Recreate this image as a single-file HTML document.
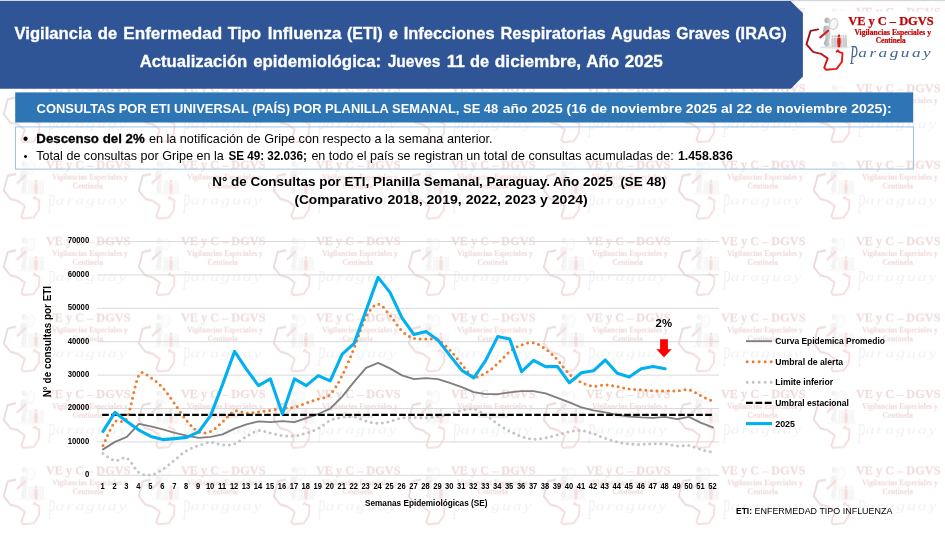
<!DOCTYPE html>
<html lang="es"><head><meta charset="utf-8"><title>Vigilancia ETI / IRAG</title>
<style>
html,body{margin:0;padding:0;background:#fff;}
svg{display:block;font-family:'Liberation Sans', sans-serif;}
.serif{font-family:'Liberation Serif', serif;}
.script{font-family:'Liberation Serif',serif;font-style:italic;}
</style></head><body>
<svg width="945" height="535" viewBox="0 0 945 535">
<defs>
<g id="logoG">
<linearGradient id="mapg" x1="0" y1="0" x2="1" y2="0.6"><stop offset="0" stop-color="#8e1216"/><stop offset="1" stop-color="#e41a1a"/></linearGradient>
<linearGradient id="figg" x1="0" y1="0" x2="1" y2="0"><stop offset="0" stop-color="#a9a9a9"/><stop offset="1" stop-color="#d6d6d6"/></linearGradient>
<path d="M14.1,16.4 L6.5,17.9 L2.5,31.3 L9.1,38.9 L16.9,40.8 L23.7,45.4 L20.2,54.6 L22.2,56.8 L32.6,55.9 L37.9,48.7 L38.5,40.2 L35.3,39.1 L33.9,37.3 L32.6,38.6" fill="none" stroke="url(#mapg)" stroke-width="1.9" stroke-linejoin="round" stroke-linecap="round"/>
<ellipse cx="30.5" cy="34.2" rx="15" ry="1.5" fill="#e2e2e2"/>
<g fill="#cbcbcb">
<rect x="27.4" y="24.6" width="2.2" height="9.4" rx="1"/><rect x="29.9" y="24.2" width="2.2" height="9.8" rx="1"/><rect x="32.2" y="24.8" width="1.8" height="9.2" rx=".9"/>
<rect x="36.6" y="24.8" width="1.8" height="9.2" rx=".9"/><rect x="38.6" y="24.2" width="2.2" height="9.8" rx="1"/><rect x="41" y="24.6" width="2" height="9.4" rx="1"/>
<circle cx="28.5" cy="23.4" r="1.1"/><circle cx="31" cy="23" r="1.1"/><circle cx="33.1" cy="23.6" r="1"/><circle cx="37.5" cy="23.6" r="1"/><circle cx="39.7" cy="23" r="1.1"/><circle cx="42" cy="23.4" r="1.1"/>
</g>
<g fill="#dc1a1a"><circle cx="35" cy="22.8" r="1.3"/><path d="M33.6,24.6 H36.4 L36.8,29 L36.2,34.2 H33.8 L33.2,29 Z"/></g>
<g fill="url(#figg)">
<circle cx="23.4" cy="7.4" r="2.9"/>
<path d="M19.8,13.6 Q22.8,11.6 25.8,13 L26.6,21.5 L25,29 L26.4,32.2 L21.5,33.8 L19.8,30.6 L21.8,23.7 L19,18.5 Z"/>
</g>
<path d="M24.1,17.7 L16.2,24.4" stroke="#d42020" stroke-width="2.1" stroke-linecap="round"/>
<ellipse cx="29.7" cy="11" rx="4" ry="5.5" transform="rotate(18 29.7 11)" fill="#f6f6fa" stroke="#cfcfcf" stroke-width="1.2"/>
</g>
<g id="logoT">
<text class="serif" x="44.2" y="11.9" font-size="12.4" font-weight="bold" fill="#c00000" stroke="#c00000" stroke-width=".25" textLength="85.4" lengthAdjust="spacingAndGlyphs">VE y C – DGVS</text>
<text class="serif" x="50.4" y="21.6" font-size="7.6" font-weight="bold" fill="#c00000" stroke="#c00000" stroke-width=".2" textLength="76.6" lengthAdjust="spacingAndGlyphs">Vigilancias Especiales y</text>
<text class="serif" x="71.7" y="29.6" font-size="7.6" font-weight="bold" fill="#c00000" stroke="#c00000" stroke-width=".2" textLength="29.9" lengthAdjust="spacingAndGlyphs">Centinela</text>
<text class="script" transform="translate(46,51.2) scale(0.85,1.85)" font-size="15" fill="currentColor">P</text>
<text class="script" transform="translate(54.3,43.6) scale(1.5,1)" font-size="11.5" fill="currentColor" textLength="48.3" lengthAdjust="spacing">araguay</text>
</g>
<g id="tileT">
<text class="serif" x="45.9" y="16.3" font-size="12.6" font-weight="bold" fill="#c00000" stroke="#c00000" stroke-width=".25" textLength="84.6" lengthAdjust="spacingAndGlyphs">VE y C – DGVS</text>
<text class="serif" x="52" y="27" font-size="7.8" font-weight="bold" fill="#c00000" stroke="#c00000" stroke-width=".2" textLength="75.8" lengthAdjust="spacingAndGlyphs">Vigilancias Especiales y</text>
<text class="serif" x="72.6" y="35.8" font-size="7.8" font-weight="bold" fill="#c00000" stroke="#c00000" stroke-width=".2" textLength="30.4" lengthAdjust="spacingAndGlyphs">Centinela</text>
<text class="script" transform="translate(47.6,60.2) scale(0.85,2)" font-size="15" fill="#9fb0c6">P</text>
<text class="script" transform="translate(55.6,52) scale(1.5,1)" font-size="12" fill="#9fb0c6" textLength="47.3" lengthAdjust="spacing">araguay</text>
</g>
<pattern id="wm" width="135.000" height="76.429" patternUnits="userSpaceOnUse"><use href="#logoG" transform="translate(1.3,3.1) scale(0.992,1.104)"/><use href="#tileT"/></pattern>
<filter id="ws" x="0" y="0" width="100%" height="100%"><feColorMatrix type="saturate" values="0.7"/><feGaussianBlur stdDeviation="0.35"/></filter>
</defs>
<rect width="945" height="535" fill="#fff"/>
<rect width="945" height="535" fill="url(#wm)" opacity="0.17" filter="url(#ws)"/>
<rect width="945" height="1.2" fill="#d6d6d6"/>
<path d="M0,1 H790.6 L802.9,13.3 V76.5 L790.9,88.7 H0 Z" fill="#2f5597"/>
<text y="39.0" font-size="16.8" font-weight="bold" fill="#fff" stroke="#fff" stroke-width=".3"><tspan x="14.6" textLength="77.2" lengthAdjust="spacingAndGlyphs">Vigilancia</tspan> <tspan x="97.8" textLength="19.3" lengthAdjust="spacingAndGlyphs">de</tspan> <tspan x="123.3" textLength="98.8" lengthAdjust="spacingAndGlyphs">Enfermedad</tspan> <tspan x="227.7" textLength="33.4" lengthAdjust="spacingAndGlyphs">Tipo</tspan> <tspan x="267.7" textLength="73.7" lengthAdjust="spacingAndGlyphs">Influenza</tspan> <tspan x="347" textLength="35.5" lengthAdjust="spacingAndGlyphs">(ETI)</tspan> <tspan x="388.9" textLength="8.9" lengthAdjust="spacingAndGlyphs">e</tspan> <tspan x="403.7" textLength="90.9" lengthAdjust="spacingAndGlyphs">Infecciones</tspan> <tspan x="500.4" textLength="105.4" lengthAdjust="spacingAndGlyphs">Respiratorias</tspan> <tspan x="611" textLength="59.5" lengthAdjust="spacingAndGlyphs">Agudas</tspan> <tspan x="676.3" textLength="53.4" lengthAdjust="spacingAndGlyphs">Graves</tspan> <tspan x="735.2" textLength="51.6" lengthAdjust="spacingAndGlyphs">(IRAG)</tspan></text>
<text y="66.8" font-size="16.8" font-weight="bold" fill="#fff" stroke="#fff" stroke-width=".3"><tspan x="139.7" textLength="107.6" lengthAdjust="spacingAndGlyphs">Actualización</tspan> <tspan x="253.2" textLength="127.9" lengthAdjust="spacingAndGlyphs">epidemiológica:</tspan> <tspan x="387.7" textLength="52.6" lengthAdjust="spacingAndGlyphs">Jueves</tspan> <tspan x="446.7" textLength="18.3" lengthAdjust="spacingAndGlyphs">11</tspan> <tspan x="470" textLength="19.0" lengthAdjust="spacingAndGlyphs">de</tspan> <tspan x="494.8" textLength="86.3" lengthAdjust="spacingAndGlyphs">diciembre,</tspan> <tspan x="586.2" textLength="33.0" lengthAdjust="spacingAndGlyphs">Año</tspan> <tspan x="624.7" textLength="38.1" lengthAdjust="spacingAndGlyphs">2025</tspan></text>
<rect x="803.5" y="11.5" width="141.5" height="65" fill="#fff"/>
<g transform="translate(804,13)" style="color:#3f6590"><use href="#logoG"/><use href="#logoT"/></g>
<rect x="15.2" y="92.4" width="898" height="30.1" fill="#2e75b6"/>
<text x="36.6" y="112.5" font-size="13" font-weight="bold" fill="#fff" textLength="212.0" lengthAdjust="spacingAndGlyphs">CONSULTAS POR ETI UNIVERSAL</text>
<text x="252.2" y="112.5" font-size="13" font-weight="bold" fill="#fff" textLength="246.0" lengthAdjust="spacingAndGlyphs">(PAÍS) POR PLANILLA SEMANAL, SE 48</text>
<text x="502.7" y="112.5" font-size="13.3" font-weight="bold" fill="#fff" textLength="389.0" lengthAdjust="spacingAndGlyphs">año 2025 (16 de noviembre 2025 al 22 de noviembre 2025):</text>
<rect x="15.5" y="126.9" width="898" height="42.2" fill="none" stroke="#9dc3e6" stroke-width="1"/>
<text x="22.7" y="144.3" font-size="16" font-weight="normal" fill="#000">•</text>
<text x="36.3" y="143.2" font-size="13.2" font-weight="bold" fill="#000" textLength="108.4" lengthAdjust="spacingAndGlyphs" stroke="#000" stroke-width=".3">Descenso del 2%</text>
<text x="148.9" y="143.2" font-size="13.2" font-weight="normal" fill="#000" textLength="343.7" lengthAdjust="spacingAndGlyphs">en la notificación de Gripe con respecto a la semana anterior.</text>
<text x="23.5" y="160.4" font-size="11.5" font-weight="normal" fill="#000">•</text>
<text x="36.3" y="160.3" font-size="12.4" font-weight="normal" fill="#000" textLength="187.5" lengthAdjust="spacingAndGlyphs">Total de consultas por Gripe en la</text>
<text x="228.4" y="160.3" font-size="12.4" font-weight="bold" fill="#000" textLength="78.5" lengthAdjust="spacingAndGlyphs">SE 49: 32.036;</text>
<text x="311.4" y="160.3" font-size="12.4" font-weight="normal" fill="#000" textLength="362.3" lengthAdjust="spacingAndGlyphs">en todo el país se registran un total de consultas acumuladas de:</text>
<text x="678" y="160.3" font-size="12.4" font-weight="bold" fill="#000" textLength="54.8" lengthAdjust="spacingAndGlyphs">1.458.836</text>
<text x="212.2" y="185.8" font-size="13.2" font-weight="bold" fill="#000" textLength="453.8" lengthAdjust="spacingAndGlyphs" xml:space="preserve">N° de Consultas por ETI, Planilla Semanal, Paraguay. Año 2025  (SE 48)</text>
<text y="204.4" font-size="13.2" font-weight="bold" fill="#000"><tspan x="294.4" textLength="88.4" lengthAdjust="spacingAndGlyphs">(Comparativo</tspan> <tspan x="387.4" textLength="200.4" lengthAdjust="spacingAndGlyphs">2018, 2019, 2022, 2023 y 2024)</tspan></text>
<line x1="97.3" x2="719" y1="475.3" y2="475.3" stroke="#d9d9d9" stroke-width="1"/>
<text x="89.2" y="477.2" font-size="8.4" font-weight="bold" fill="#000" text-anchor="end" textLength="4.3" lengthAdjust="spacingAndGlyphs">0</text>
<line x1="97.3" x2="719" y1="441.9" y2="441.9" stroke="#d9d9d9" stroke-width="1"/>
<text x="89.2" y="443.8" font-size="8.4" font-weight="bold" fill="#000" text-anchor="end" textLength="21.5" lengthAdjust="spacingAndGlyphs">10000</text>
<line x1="97.3" x2="719" y1="408.5" y2="408.5" stroke="#d9d9d9" stroke-width="1"/>
<text x="89.2" y="410.4" font-size="8.4" font-weight="bold" fill="#000" text-anchor="end" textLength="21.5" lengthAdjust="spacingAndGlyphs">20000</text>
<line x1="97.3" x2="719" y1="375.1" y2="375.1" stroke="#d9d9d9" stroke-width="1"/>
<text x="89.2" y="377.0" font-size="8.4" font-weight="bold" fill="#000" text-anchor="end" textLength="21.5" lengthAdjust="spacingAndGlyphs">30000</text>
<line x1="97.3" x2="719" y1="341.7" y2="341.7" stroke="#d9d9d9" stroke-width="1"/>
<text x="89.2" y="343.6" font-size="8.4" font-weight="bold" fill="#000" text-anchor="end" textLength="21.5" lengthAdjust="spacingAndGlyphs">40000</text>
<line x1="97.3" x2="719" y1="308.3" y2="308.3" stroke="#d9d9d9" stroke-width="1"/>
<text x="89.2" y="310.2" font-size="8.4" font-weight="bold" fill="#000" text-anchor="end" textLength="21.5" lengthAdjust="spacingAndGlyphs">50000</text>
<line x1="97.3" x2="719" y1="274.9" y2="274.9" stroke="#d9d9d9" stroke-width="1"/>
<text x="89.2" y="276.8" font-size="8.4" font-weight="bold" fill="#000" text-anchor="end" textLength="21.5" lengthAdjust="spacingAndGlyphs">60000</text>
<line x1="97.3" x2="719" y1="241.5" y2="241.5" stroke="#d9d9d9" stroke-width="1"/>
<text x="89.2" y="243.4" font-size="8.4" font-weight="bold" fill="#000" text-anchor="end" textLength="21.5" lengthAdjust="spacingAndGlyphs">70000</text>
<text transform="translate(50.7,397.3) rotate(-90)" font-size="10" font-weight="bold" textLength="111.4" lengthAdjust="spacingAndGlyphs">N° de consultas por ETI</text>
<text x="102.5" y="489.1" font-size="8.4" font-weight="bold" fill="#000" text-anchor="middle" textLength="4.2" lengthAdjust="spacingAndGlyphs">1</text>
<text x="114.5" y="489.1" font-size="8.4" font-weight="bold" fill="#000" text-anchor="middle" textLength="4.2" lengthAdjust="spacingAndGlyphs">2</text>
<text x="126.4" y="489.1" font-size="8.4" font-weight="bold" fill="#000" text-anchor="middle" textLength="4.2" lengthAdjust="spacingAndGlyphs">3</text>
<text x="138.4" y="489.1" font-size="8.4" font-weight="bold" fill="#000" text-anchor="middle" textLength="4.2" lengthAdjust="spacingAndGlyphs">4</text>
<text x="150.3" y="489.1" font-size="8.4" font-weight="bold" fill="#000" text-anchor="middle" textLength="4.2" lengthAdjust="spacingAndGlyphs">5</text>
<text x="162.3" y="489.1" font-size="8.4" font-weight="bold" fill="#000" text-anchor="middle" textLength="4.2" lengthAdjust="spacingAndGlyphs">6</text>
<text x="174.3" y="489.1" font-size="8.4" font-weight="bold" fill="#000" text-anchor="middle" textLength="4.2" lengthAdjust="spacingAndGlyphs">7</text>
<text x="186.2" y="489.1" font-size="8.4" font-weight="bold" fill="#000" text-anchor="middle" textLength="4.2" lengthAdjust="spacingAndGlyphs">8</text>
<text x="198.2" y="489.1" font-size="8.4" font-weight="bold" fill="#000" text-anchor="middle" textLength="4.2" lengthAdjust="spacingAndGlyphs">9</text>
<text x="210.1" y="489.1" font-size="8.4" font-weight="bold" fill="#000" text-anchor="middle" textLength="8.4" lengthAdjust="spacingAndGlyphs">10</text>
<text x="222.1" y="489.1" font-size="8.4" font-weight="bold" fill="#000" text-anchor="middle" textLength="8.4" lengthAdjust="spacingAndGlyphs">11</text>
<text x="234.1" y="489.1" font-size="8.4" font-weight="bold" fill="#000" text-anchor="middle" textLength="8.4" lengthAdjust="spacingAndGlyphs">12</text>
<text x="246.0" y="489.1" font-size="8.4" font-weight="bold" fill="#000" text-anchor="middle" textLength="8.4" lengthAdjust="spacingAndGlyphs">13</text>
<text x="258.0" y="489.1" font-size="8.4" font-weight="bold" fill="#000" text-anchor="middle" textLength="8.4" lengthAdjust="spacingAndGlyphs">14</text>
<text x="269.9" y="489.1" font-size="8.4" font-weight="bold" fill="#000" text-anchor="middle" textLength="8.4" lengthAdjust="spacingAndGlyphs">15</text>
<text x="281.9" y="489.1" font-size="8.4" font-weight="bold" fill="#000" text-anchor="middle" textLength="8.4" lengthAdjust="spacingAndGlyphs">16</text>
<text x="293.9" y="489.1" font-size="8.4" font-weight="bold" fill="#000" text-anchor="middle" textLength="8.4" lengthAdjust="spacingAndGlyphs">17</text>
<text x="305.8" y="489.1" font-size="8.4" font-weight="bold" fill="#000" text-anchor="middle" textLength="8.4" lengthAdjust="spacingAndGlyphs">18</text>
<text x="317.8" y="489.1" font-size="8.4" font-weight="bold" fill="#000" text-anchor="middle" textLength="8.4" lengthAdjust="spacingAndGlyphs">19</text>
<text x="329.7" y="489.1" font-size="8.4" font-weight="bold" fill="#000" text-anchor="middle" textLength="8.4" lengthAdjust="spacingAndGlyphs">20</text>
<text x="341.7" y="489.1" font-size="8.4" font-weight="bold" fill="#000" text-anchor="middle" textLength="8.4" lengthAdjust="spacingAndGlyphs">21</text>
<text x="353.7" y="489.1" font-size="8.4" font-weight="bold" fill="#000" text-anchor="middle" textLength="8.4" lengthAdjust="spacingAndGlyphs">22</text>
<text x="365.6" y="489.1" font-size="8.4" font-weight="bold" fill="#000" text-anchor="middle" textLength="8.4" lengthAdjust="spacingAndGlyphs">23</text>
<text x="377.6" y="489.1" font-size="8.4" font-weight="bold" fill="#000" text-anchor="middle" textLength="8.4" lengthAdjust="spacingAndGlyphs">24</text>
<text x="389.5" y="489.1" font-size="8.4" font-weight="bold" fill="#000" text-anchor="middle" textLength="8.4" lengthAdjust="spacingAndGlyphs">25</text>
<text x="401.5" y="489.1" font-size="8.4" font-weight="bold" fill="#000" text-anchor="middle" textLength="8.4" lengthAdjust="spacingAndGlyphs">26</text>
<text x="413.5" y="489.1" font-size="8.4" font-weight="bold" fill="#000" text-anchor="middle" textLength="8.4" lengthAdjust="spacingAndGlyphs">27</text>
<text x="425.4" y="489.1" font-size="8.4" font-weight="bold" fill="#000" text-anchor="middle" textLength="8.4" lengthAdjust="spacingAndGlyphs">28</text>
<text x="437.4" y="489.1" font-size="8.4" font-weight="bold" fill="#000" text-anchor="middle" textLength="8.4" lengthAdjust="spacingAndGlyphs">29</text>
<text x="449.3" y="489.1" font-size="8.4" font-weight="bold" fill="#000" text-anchor="middle" textLength="8.4" lengthAdjust="spacingAndGlyphs">30</text>
<text x="461.3" y="489.1" font-size="8.4" font-weight="bold" fill="#000" text-anchor="middle" textLength="8.4" lengthAdjust="spacingAndGlyphs">31</text>
<text x="473.3" y="489.1" font-size="8.4" font-weight="bold" fill="#000" text-anchor="middle" textLength="8.4" lengthAdjust="spacingAndGlyphs">32</text>
<text x="485.2" y="489.1" font-size="8.4" font-weight="bold" fill="#000" text-anchor="middle" textLength="8.4" lengthAdjust="spacingAndGlyphs">33</text>
<text x="497.2" y="489.1" font-size="8.4" font-weight="bold" fill="#000" text-anchor="middle" textLength="8.4" lengthAdjust="spacingAndGlyphs">34</text>
<text x="509.1" y="489.1" font-size="8.4" font-weight="bold" fill="#000" text-anchor="middle" textLength="8.4" lengthAdjust="spacingAndGlyphs">35</text>
<text x="521.1" y="489.1" font-size="8.4" font-weight="bold" fill="#000" text-anchor="middle" textLength="8.4" lengthAdjust="spacingAndGlyphs">36</text>
<text x="533.1" y="489.1" font-size="8.4" font-weight="bold" fill="#000" text-anchor="middle" textLength="8.4" lengthAdjust="spacingAndGlyphs">37</text>
<text x="545.0" y="489.1" font-size="8.4" font-weight="bold" fill="#000" text-anchor="middle" textLength="8.4" lengthAdjust="spacingAndGlyphs">38</text>
<text x="557.0" y="489.1" font-size="8.4" font-weight="bold" fill="#000" text-anchor="middle" textLength="8.4" lengthAdjust="spacingAndGlyphs">39</text>
<text x="568.9" y="489.1" font-size="8.4" font-weight="bold" fill="#000" text-anchor="middle" textLength="8.4" lengthAdjust="spacingAndGlyphs">40</text>
<text x="580.9" y="489.1" font-size="8.4" font-weight="bold" fill="#000" text-anchor="middle" textLength="8.4" lengthAdjust="spacingAndGlyphs">41</text>
<text x="592.9" y="489.1" font-size="8.4" font-weight="bold" fill="#000" text-anchor="middle" textLength="8.4" lengthAdjust="spacingAndGlyphs">42</text>
<text x="604.8" y="489.1" font-size="8.4" font-weight="bold" fill="#000" text-anchor="middle" textLength="8.4" lengthAdjust="spacingAndGlyphs">43</text>
<text x="616.8" y="489.1" font-size="8.4" font-weight="bold" fill="#000" text-anchor="middle" textLength="8.4" lengthAdjust="spacingAndGlyphs">44</text>
<text x="628.7" y="489.1" font-size="8.4" font-weight="bold" fill="#000" text-anchor="middle" textLength="8.4" lengthAdjust="spacingAndGlyphs">45</text>
<text x="640.7" y="489.1" font-size="8.4" font-weight="bold" fill="#000" text-anchor="middle" textLength="8.4" lengthAdjust="spacingAndGlyphs">46</text>
<text x="652.7" y="489.1" font-size="8.4" font-weight="bold" fill="#000" text-anchor="middle" textLength="8.4" lengthAdjust="spacingAndGlyphs">47</text>
<text x="664.6" y="489.1" font-size="8.4" font-weight="bold" fill="#000" text-anchor="middle" textLength="8.4" lengthAdjust="spacingAndGlyphs">48</text>
<text x="676.6" y="489.1" font-size="8.4" font-weight="bold" fill="#000" text-anchor="middle" textLength="8.4" lengthAdjust="spacingAndGlyphs">49</text>
<text x="688.5" y="489.1" font-size="8.4" font-weight="bold" fill="#000" text-anchor="middle" textLength="8.4" lengthAdjust="spacingAndGlyphs">50</text>
<text x="700.5" y="489.1" font-size="8.4" font-weight="bold" fill="#000" text-anchor="middle" textLength="8.4" lengthAdjust="spacingAndGlyphs">51</text>
<text x="712.5" y="489.1" font-size="8.4" font-weight="bold" fill="#000" text-anchor="middle" textLength="8.4" lengthAdjust="spacingAndGlyphs">52</text>
<text x="365" y="506.1" font-size="8.8" font-weight="bold" fill="#000" textLength="122.5" lengthAdjust="spacingAndGlyphs">Semanas Epidemiológicas (SE)</text>
<path d="M103.0,453.6 C105.0,454.8 111.0,459.9 115.0,460.6 C118.9,461.4 122.9,456.2 126.9,458.1 C130.9,460.1 134.9,469.6 138.9,472.4 C142.9,475.2 146.9,475.4 150.8,474.9 C154.8,474.4 158.8,471.9 162.8,469.4 C166.8,466.9 170.8,463.0 174.8,459.9 C178.7,456.8 182.7,453.0 186.7,450.6 C190.7,448.3 194.7,447.0 198.7,445.6 C202.7,444.3 206.7,442.5 210.6,442.4 C214.6,442.3 218.6,444.6 222.6,444.9 C226.6,445.1 230.6,445.3 234.6,443.9 C238.5,442.5 242.5,438.6 246.5,436.4 C250.5,434.2 254.5,431.2 258.5,430.6 C262.5,430.1 266.5,432.3 270.4,433.1 C274.4,434.0 278.4,435.2 282.4,435.6 C286.4,436.1 290.4,436.3 294.4,435.9 C298.3,435.5 302.3,434.4 306.3,433.1 C310.3,431.9 314.3,430.5 318.3,428.4 C322.3,426.3 326.3,422.2 330.2,420.4 C334.2,418.6 338.2,418.0 342.2,417.4 C346.2,416.8 350.2,416.3 354.2,416.9 C358.1,417.5 362.1,420.1 366.1,421.1 C370.1,422.2 374.1,423.4 378.1,423.4 C382.1,423.4 386.1,422.3 390.0,421.4 C394.0,420.5 398.0,418.5 402.0,417.9 C406.0,417.3 410.0,417.6 414.0,417.6 C417.9,417.6 421.9,418.1 425.9,417.9 C429.9,417.7 433.9,417.0 437.9,416.4 C441.9,415.8 445.9,415.4 449.8,414.4 C453.8,413.4 457.8,411.3 461.8,410.4 C465.8,409.5 469.8,408.4 473.8,409.1 C477.7,409.9 481.7,412.4 485.7,414.9 C489.7,417.4 493.7,421.4 497.7,424.1 C501.7,426.9 505.7,429.1 509.6,431.1 C513.6,433.2 517.6,435.3 521.6,436.6 C525.6,438.0 529.6,438.9 533.6,439.1 C537.5,439.4 541.5,438.6 545.5,437.9 C549.5,437.2 553.5,435.9 557.5,434.9 C561.5,433.9 565.5,432.4 569.4,431.6 C573.4,430.9 577.4,430.3 581.4,430.6 C585.4,431.0 589.4,432.4 593.4,433.6 C597.3,434.9 601.3,437.0 605.3,438.4 C609.3,439.8 613.3,441.2 617.3,442.1 C621.3,443.1 625.3,443.5 629.2,443.9 C633.2,444.3 637.2,444.4 641.2,444.4 C645.2,444.4 649.2,444.0 653.2,443.9 C657.1,443.8 661.1,443.6 665.1,443.9 C669.1,444.2 673.1,445.6 677.1,445.9 C681.1,446.2 685.1,445.0 689.0,445.6 C693.0,446.3 697.0,448.5 701.0,449.6 C705.0,450.8 711.0,451.9 713.0,452.4" fill="none" stroke="#c4c4c4" stroke-width="3" stroke-linecap="round" stroke-dasharray="0 5.6"/>
<path d="M103.0,445.6 C105.0,441.7 111.0,426.4 115.0,421.9 C118.9,417.4 122.9,426.1 126.9,418.4 C130.9,410.6 134.9,382.1 138.9,375.4 C142.9,368.6 146.9,375.8 150.8,377.9 C154.8,380.0 158.8,383.6 162.8,387.9 C166.8,392.2 170.8,398.4 174.8,403.9 C178.7,409.4 182.7,416.0 186.7,420.6 C190.7,425.3 194.7,430.1 198.7,431.9 C202.7,433.7 206.7,433.1 210.6,431.4 C214.6,429.7 218.6,425.3 222.6,421.9 C226.6,418.5 230.6,412.6 234.6,411.1 C238.5,409.7 242.5,413.0 246.5,413.1 C250.5,413.3 254.5,412.4 258.5,411.9 C262.5,411.4 266.5,411.0 270.4,410.4 C274.4,409.8 278.4,408.9 282.4,408.4 C286.4,407.9 290.4,408.3 294.4,407.4 C298.3,406.5 302.3,404.3 306.3,402.9 C310.3,401.5 314.3,400.3 318.3,398.9 C322.3,397.5 326.3,398.3 330.2,394.4 C334.2,390.5 338.2,383.1 342.2,375.4 C346.2,367.6 350.2,357.7 354.2,347.9 C358.1,338.1 362.1,323.9 366.1,316.6 C370.1,309.4 374.1,304.4 378.1,304.1 C382.1,303.9 386.1,310.9 390.0,315.4 C394.0,319.9 398.0,327.3 402.0,331.1 C406.0,335.0 410.0,337.0 414.0,338.3 C417.9,339.6 421.9,338.5 425.9,338.9 C429.9,339.2 433.9,338.6 437.9,340.4 C441.9,342.2 445.9,345.9 449.8,349.9 C453.8,353.9 457.8,359.9 461.8,364.4 C465.8,368.9 469.8,375.3 473.8,376.7 C477.7,378.1 481.7,375.1 485.7,372.9 C489.7,370.7 493.7,367.2 497.7,363.6 C501.7,360.1 505.7,354.8 509.6,351.6 C513.6,348.5 517.6,346.4 521.6,344.9 C525.6,343.4 529.6,342.2 533.6,342.9 C537.5,343.6 541.5,346.1 545.5,348.9 C549.5,351.7 553.5,355.7 557.5,359.9 C561.5,364.1 565.5,370.4 569.4,374.1 C573.4,377.9 577.4,380.4 581.4,382.4 C585.4,384.4 589.4,385.7 593.4,386.1 C597.3,386.6 601.3,384.8 605.3,384.9 C609.3,385.0 613.3,385.9 617.3,386.6 C621.3,387.4 625.3,388.6 629.2,389.1 C633.2,389.7 637.2,389.6 641.2,389.9 C645.2,390.2 649.2,390.7 653.2,390.9 C657.1,391.1 661.1,390.9 665.1,390.9 C669.1,390.9 673.1,391.1 677.1,390.9 C681.1,390.7 685.1,389.1 689.0,389.9 C693.0,390.7 697.0,394.0 701.0,395.9 C705.0,397.8 711.0,400.5 713.0,401.4" fill="none" stroke="#ed7d31" stroke-width="3" stroke-linecap="round" stroke-dasharray="0 5.6"/>
<path d="M103.0,449.4 L115.0,441.9 L126.9,436.9 L138.9,423.9 L150.8,426.4 L162.8,429.4 L174.8,432.9 L186.7,435.6 L198.7,437.9 L210.6,436.9 L222.6,434.4 L234.6,428.6 L246.5,424.4 L258.5,421.4 L270.4,422.1 L282.4,421.1 L294.4,422.1 L306.3,418.1 L318.3,414.0 L330.2,408.6 L342.2,396.6 L354.2,381.6 L366.1,367.9 L378.1,362.9 L390.0,368.4 L402.0,375.4 L414.0,379.1 L425.9,378.1 L437.9,379.1 L449.8,382.9 L461.8,387.1 L473.8,392.1 L485.7,394.1 L497.7,394.1 L509.6,392.4 L521.6,391.1 L533.6,391.1 L545.5,393.4 L557.5,397.9 L569.4,402.4 L581.4,407.4 L593.4,410.4 L605.3,412.4 L617.3,414.9 L629.2,416.6 L641.2,417.4 L653.2,417.9 L665.1,416.9 L677.1,419.1 L689.0,416.9 L701.0,422.9 L713.0,427.4" fill="none" stroke="#7f7f7f" stroke-width="1.9" stroke-linejoin="round" stroke-linecap="round"/>
<line x1="102.2" x2="714" y1="414.8" y2="414.8" stroke="#000" stroke-width="2.3" stroke-dasharray="6.6 2.4"/>
<path d="M103.0,431.4 L115.0,412.4 L126.9,421.4 L138.9,430.1 L150.8,436.4 L162.8,439.6 L174.8,438.6 L186.7,437.4 L198.7,431.9 L210.6,415.6 L222.6,384.4 L234.6,351.4 L246.5,369.4 L258.5,385.6 L270.4,378.9 L282.4,413.9 L294.4,378.9 L306.3,385.6 L318.3,375.6 L330.2,380.9 L342.2,354.1 L354.2,343.4 L366.1,310.4 L378.1,277.4 L390.0,292.4 L402.0,317.9 L414.0,334.6 L425.9,331.6 L437.9,339.9 L449.8,355.4 L461.8,370.4 L473.8,377.9 L485.7,360.4 L497.7,336.6 L509.6,338.9 L521.6,371.6 L533.6,360.4 L545.5,366.6 L557.5,366.6 L569.4,382.8 L581.4,372.8 L593.4,370.8 L605.3,360.0 L617.3,373.3 L629.2,377.0 L641.2,368.8 L653.2,366.5 L665.1,368.8" fill="none" stroke="#00b0f0" stroke-width="3.1" stroke-linejoin="round" stroke-linecap="round"/>
<path d="M660.1,339.2 H667.9 V349.3 H671.7 L664,357.2 L656.4,349.3 H660.1 Z" fill="#ff0000"/>
<text x="655.6" y="327.4" font-size="11" font-weight="bold" fill="#000" textLength="16.5" lengthAdjust="spacingAndGlyphs">2%</text>
<line x1="746" x2="772" y1="341.2" y2="341.2" stroke="#7f7f7f" stroke-width="1.9"/>
<line x1="747.2" x2="772" y1="361.8" y2="361.8" stroke="#ed7d31" stroke-width="3" stroke-linecap="round" stroke-dasharray="0 6"/>
<line x1="747.2" x2="772" y1="382.2" y2="382.2" stroke="#c4c4c4" stroke-width="3" stroke-linecap="round" stroke-dasharray="0 6"/>
<line x1="746" x2="772" y1="402.8" y2="402.8" stroke="#000" stroke-width="2.3" stroke-dasharray="6.8 2.6"/>
<line x1="746" x2="772" y1="423.6" y2="423.6" stroke="#00b0f0" stroke-width="3.1"/>
<text x="775.2" y="344.1" font-size="8.4" font-weight="bold" fill="#000" textLength="109.8" lengthAdjust="spacingAndGlyphs">Curva Epidemica Promedio</text>
<text x="775.2" y="364.7" font-size="8.4" font-weight="bold" fill="#000" textLength="68.0" lengthAdjust="spacingAndGlyphs">Umbral de alerta</text>
<text x="775.2" y="385.1" font-size="8.4" font-weight="bold" fill="#000" textLength="58.0" lengthAdjust="spacingAndGlyphs">Limite inferior</text>
<text x="775.2" y="405.7" font-size="8.4" font-weight="bold" fill="#000" textLength="73.8" lengthAdjust="spacingAndGlyphs">Umbral estacional</text>
<text x="775.2" y="426.5" font-size="8.4" font-weight="bold" fill="#000" textLength="19.8" lengthAdjust="spacingAndGlyphs">2025</text>
<text x="736" y="513.8" font-size="9.3" font-weight="bold" fill="#000" textLength="16.0" lengthAdjust="spacingAndGlyphs">ETI:</text>
<text x="754.5" y="513.8" font-size="9.3" font-weight="normal" fill="#000" textLength="137.9" lengthAdjust="spacingAndGlyphs">ENFERMEDAD TIPO INFLUENZA</text>
</svg>
</body></html>
